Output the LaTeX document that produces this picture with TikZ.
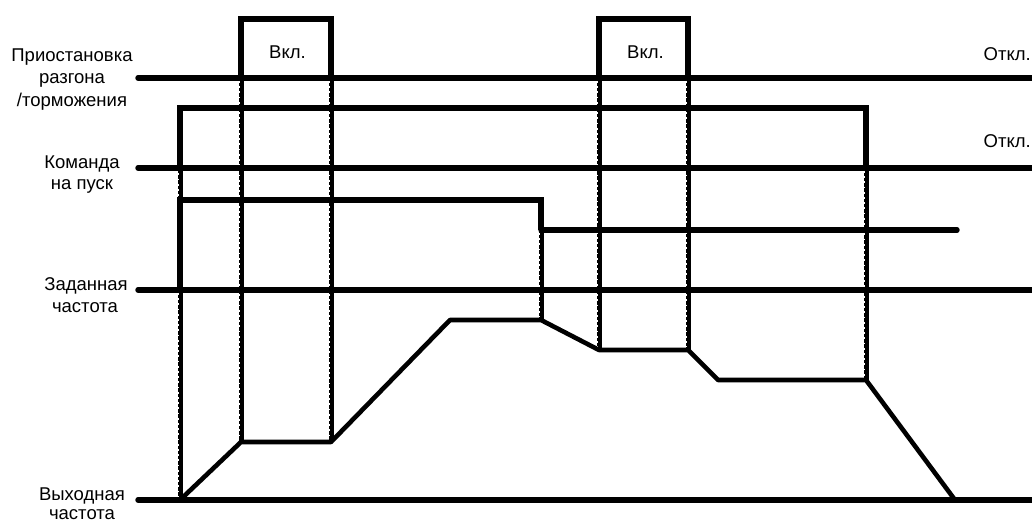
\documentclass[tikz,border=0pt]{standalone}
\usepackage{fontspec}
\setmainfont{Liberation Sans}
\begin{document}
\begin{tikzpicture}[x=1pt,y=-1pt,
  sig/.style={line width=5.4pt,line join=miter},
  sigr/.style={line width=5.4pt,line cap=round},
  outl/.style={line width=4.6pt,line join=round},
  guide/.style={line width=5pt},
  guidew/.style={line width=1pt,white,dash pattern=on 1.8pt off 3.4pt},
  lbl/.style={font=\fontsize{18.5}{22}\selectfont,inner sep=0pt,anchor=center},
  st/.style={font=\fontsize{18.5}{22}\selectfont,inner sep=0pt,anchor=west},
  ste/.style={font=\fontsize{18.5}{22}\selectfont,inner sep=0pt,anchor=east}]
\useasboundingbox (0,0) rectangle (1032,524);
\begin{scope}
\clip (0,0) rectangle (1032,524);
% dotted guide lines
\foreach \x/\ya/\yb in {180/108/500, 241/78/442, 331/78/442, 541/230/320, 599/78/350, 688/78/350, 866/168/380}{
  \draw[guide] (\x,\ya) -- (\x,\yb);
  \draw[guidew] (\x-1.2,\ya+3) -- (\x-1.2,\yb-3);
}
% signal 1: pause accel/decel
\draw[sigr] (138,78) -- (1040,78);
\draw[sig] (241,78) -- (241,19) -- (331,19) -- (331,78);
\draw[sig] (599,78) -- (599,19) -- (688,19) -- (688,78);
% signal 2: run command
\draw[sigr] (138,168) -- (1040,168);
\draw[sig] (180,168) -- (180,108) -- (866,108) -- (866,168);
% signal 3: set frequency
\draw[sigr] (138,290) -- (1040,290);
\draw[sig] (180,290) -- (180,200) -- (541,200) -- (541,230);
\draw[sigr] (541,230) -- (957,230);
% signal 4: output frequency
\draw[sigr] (138,500) -- (1040,500);
\draw[outl] (180,500) -- (241,442) -- (331,442) -- (450,320) -- (541,320) -- (599,350) -- (688,350) -- (718,380) -- (866,380) -- (955,500);
% labels
\node[lbl] (l1a) at (72,57) {Приостановка};
\node[lbl] (l1b) at (72,80) {разгона};
\node[lbl] (l1c) at (72,102) {/торможения};
\node[lbl] (l2a) at (82,164) {Команда};
\node[lbl] (l2b) at (82,186) {на пуск};
\node[lbl] (l3a) at (86,286) {Заданная};
\node[lbl] (l3b) at (85,308) {частота};
\node[lbl] (l4a) at (82,496) {Выходная};
\node[lbl] (l4b) at (82,515) {частота};
\node[st] (on1) at (269,52) {Вкл.};
\node[st] (on2) at (627,52) {Вкл.};
\node[ste] (off1) at (1031,54) {Откл.};
\node[ste] (off2) at (1031,141) {Откл.};
\end{scope}
\end{tikzpicture}
\end{document}
